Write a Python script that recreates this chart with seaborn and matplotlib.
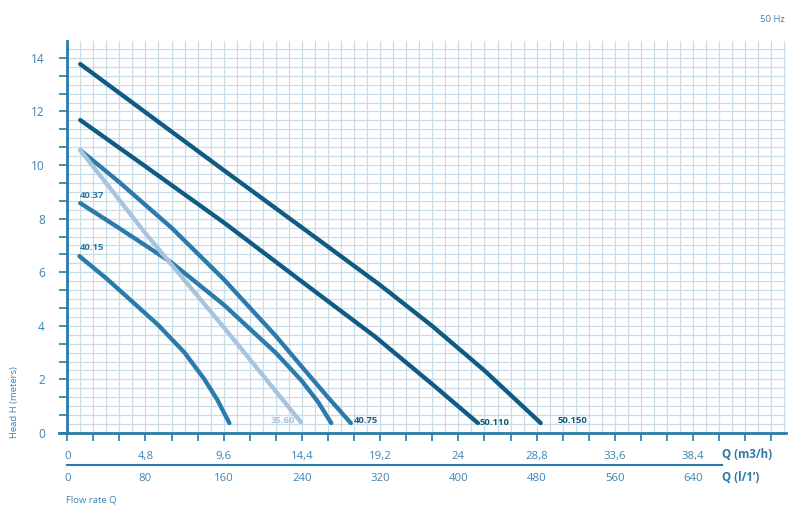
import matplotlib
matplotlib.use("Agg")
import matplotlib.pyplot as plt
import matplotlib.ticker as mticker
import numpy as np
import pandas as pd
import seaborn as sns

# Pump curves: flow Q (m3/h) and head H (m)
q_50150 = [0.8, 4.8, 9.6, 14.4, 19.2, 22.4, 25.6, 29.05]
h_50150 = [13.77, 11.97, 9.81, 7.67, 5.52, 3.99, 2.33, 0.37]

q_50110 = [0.8, 4.8, 9.6, 14.4, 18.9, 22.4, 25.2]
h_50110 = [11.68, 9.95, 7.86, 5.65, 3.59, 1.82, 0.37]

q_4075 = [0.8, 3.2, 6.4, 9.6, 12.8, 14.4, 16.0, 17.4]
h_4075 = [10.56, 9.36, 7.66, 5.74, 3.62, 2.47, 1.33, 0.37]

q_4037 = [0.8, 3.2, 6.4, 9.6, 12.8, 14.4, 15.4, 16.2]
h_4037 = [8.58, 7.64, 6.36, 4.79, 2.99, 1.94, 1.15, 0.37]

q_3560 = [0.8, 4.8, 9.6, 14.33]
h_3560 = [10.56, 7.45, 3.95, 0.41]

q_4015 = [0.75, 2.4, 4.0, 5.6, 7.2, 8.4, 9.2, 9.95]
h_4015 = [6.6, 5.77, 4.9, 4.02, 3.0, 2.02, 1.25, 0.37]

models = ["50.150", "50.110", "40.75", "40.37", "35.60", "40.15"]
flows = [q_50150, q_50110, q_4075, q_4037, q_3560, q_4015]
heads = [h_50150, h_50110, h_4075, h_4037, h_3560, h_4015]

q_ticks = [0, 4.8, 9.6, 14.4, 19.2, 24, 28.8, 33.6, 38.4]
q_tick_labels = ["0", "4,8", "9,6", "14,4", "19,2", "24", "28,8", "33,6", "38,4"]
l_ticks = [0, 80, 160, 240, 320, 400, 480, 560, 640]
h_ticks = [0, 2, 4, 6, 8, 10, 12, 14]

DARK = "#0f5b83"
MID = "#2a7aab"
LIGHT = "#a8c3dc"
TEXT = "#3d84b6"
GRID = "#c9dcea"

palette = {"50.150": DARK, "50.110": DARK, "40.75": MID,
           "40.37": MID, "35.60": LIGHT, "40.15": MID}

curves = pd.concat(
    [pd.DataFrame({"model": m, "Q": q, "H": h})
     for m, q, h in zip(models, flows, heads)],
    ignore_index=True,
)

sns.set_theme(style="white")
plt.rcParams["font.family"] = ["Open Sans", "DejaVu Sans"]

fig = plt.figure(figsize=(8, 5.24), dpi=100)
ax = fig.add_axes([0.084, 0.1737, 0.8985, 0.748])

x_max = 44.1
y_max = 14.63
ax.set_xlim(0, x_max)
ax.set_ylim(0, y_max)

# graph-paper grid
for gx in np.arange(0.8, x_max, 0.8):
    ax.axvline(gx, color=GRID, lw=0.9, zorder=0)
for gy in np.arange(1 / 3, y_max, 1 / 3):
    ax.axhline(gy, color=GRID, lw=0.9, zorder=0)

sns.lineplot(data=curves, x="Q", y="H", hue="model", units="model",
             estimator=None, sort=False, palette=palette, linewidth=3.1,
             legend=False, ax=ax, solid_capstyle="round",
             solid_joinstyle="round", zorder=3)

# curve labels
lab_kw = dict(fontsize=6.8, fontweight="bold", va="center")
ax.text(0.8, 8.88, "40.37", color=MID, ha="left", **lab_kw)
ax.text(0.75, 6.94, "40.15", color=MID, ha="left", **lab_kw)
ax.text(13.25, 0.45, "35.60", color=LIGHT, ha="center", **lab_kw)
ax.text(17.6, 0.45, "40.75", color="#1d5f8a", ha="left", **lab_kw)
ax.text(25.3, 0.4, "50.110", color=DARK, ha="left", **lab_kw)
ax.text(30.1, 0.45, "50.150", color=DARK, ha="left", **lab_kw)

# spines
for side in ["top", "right"]:
    ax.spines[side].set_visible(False)
for side in ["left", "bottom"]:
    ax.spines[side].set_color(MID)
    ax.spines[side].set_linewidth(2)
ax.spines["bottom"].set_bounds(-0.5, x_max)

# x ticks (m3/h)
ax.xaxis.set_major_locator(mticker.FixedLocator(q_ticks))
ax.xaxis.set_minor_locator(mticker.MultipleLocator(1.6))
ax.set_xticklabels(q_tick_labels)
ax.tick_params(axis="x", which="both", direction="out", length=6,
               width=1.2, color=MID, bottom=True, labelsize=8.2,
               labelcolor=TEXT, pad=7)

# y ticks (m)
ax.yaxis.set_major_locator(mticker.FixedLocator(h_ticks))
ax.yaxis.set_minor_locator(mticker.MultipleLocator(2 / 3))
ax.tick_params(axis="y", which="both", direction="out", length=6,
               width=1.2, color=MID, left=True, labelsize=8.6,
               labelcolor=TEXT, pad=10)
ax.set_xlabel("")
ax.set_ylabel("")

# second flow scale in l/min
secax = ax.secondary_xaxis(-0.0816, functions=(lambda q: q * 1000 / 60,
                                               lambda l: l * 60 / 1000))
secax.set_xticks(l_ticks)
secax.set_xticklabels([str(v) for v in l_ticks])
secax.tick_params(axis="x", length=0, labelsize=8.2, labelcolor=TEXT, pad=6)
secax.spines["bottom"].set_color(MID)
secax.spines["bottom"].set_linewidth(1.5)
secax.spines["bottom"].set_bounds(0, 670)

fig.text(0.9025, 0.132, "Q (m3/h)", color="#2f78a8", fontsize=8.3,
         fontweight="bold", va="center", ha="left")
fig.text(0.9025, 0.0878, "Q (l/1’)", color="#2f78a8", fontsize=8.3,
         fontweight="bold", va="center", ha="left")
fig.text(0.0825, 0.0458, "Flow rate Q", color=TEXT, fontsize=6.8,
         va="center", ha="left")
fig.text(0.0175, 0.233, "Head H (meters)", color=TEXT, fontsize=6.8,
         rotation=90, va="center", ha="center")
fig.text(0.966, 0.962, "50 Hz", color=TEXT, fontsize=6.8,
         va="center", ha="center")

fig.savefig("out.png", dpi=100)
plt.close(fig)
